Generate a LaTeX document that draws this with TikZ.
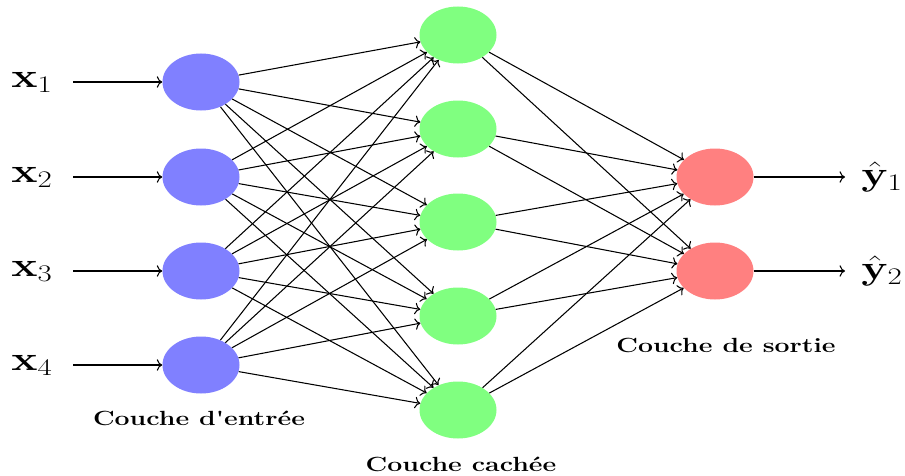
\RequirePackage{fix-cm}
\documentclass[tikz,border=0pt]{standalone}
\usepackage{amsmath, amssymb}
\usepackage{textcomp}
\usepackage{tikz}
\usetikzlibrary{arrows.meta, positioning, shapes.geometric, calc}

\begin{document}
\begin{tikzpicture}[x=0.03cm, y=-0.03cm,
    % Neuron styles
    neuron/.style={ellipse, minimum width=2.31cm, minimum height=1.71cm, inner sep=0pt},
    inneuron/.style={neuron, fill=blue!50},
    hidneuron/.style={neuron, fill=green!50},
    outneuron/.style={neuron, fill=red!50},
    % Text styles
    varlabel/.style={font=\fontsize{29}{29}\selectfont, xscale=1.3, inner sep=0pt},
    layerlabel/.style={font=\fontsize{17.5}{17.5}\selectfont\bfseries, xscale=1.3, inner sep=0pt},
    arrow/.style={-{To[scale=1.3]}, line width=0.9pt}
]
\useasboundingbox (0,0) rectangle (905,475);

% Input layer
\foreach \i/\y in {1/82, 2/177, 3/271, 4/365} {
    \node[inneuron] (in\i) at (201,\y) {};
    \node[varlabel] (x\i) at (32,\y) {$\mathbf{x}_\i$};
    \coordinate (xs\i) at (73,\y);
    \draw[arrow] (xs\i) -- (in\i);
}

% Hidden layer
\foreach \j/\y in {1/35, 2/129, 3/222, 4/316, 5/410} {
    \node[hidneuron] (hid\j) at (458,\y) {};
}

% Output layer
\foreach \k/\y in {1/177, 2/271} {
    \node[outneuron] (out\k) at (715,\y) {};
    \coordinate (ye\k) at (845,\y);
    \node[varlabel] (y\k) at (882,\y) {$\hat{\mathbf{y}}_\k$};
    \draw[arrow] (out\k) -- (ye\k);
}

% Connections
\foreach \i in {1,...,4} {
    \foreach \j in {1,...,5} {
        \draw[arrow] (in\i) -- (hid\j);
    }
}
\foreach \j in {1,...,5} {
    \foreach \k in {1,2} {
        \draw[arrow] (hid\j) -- (out\k);
    }
}

% Layer labels
\node[layerlabel] (inlabel) at (199,418) {Couche d\textquotesingle entrée};
\node[layerlabel] (hidlabel) at (461,464) {Couche cachée};
\node[layerlabel] (outlabel) at (726,345) {Couche de sortie};

\end{tikzpicture}
\end{document}
